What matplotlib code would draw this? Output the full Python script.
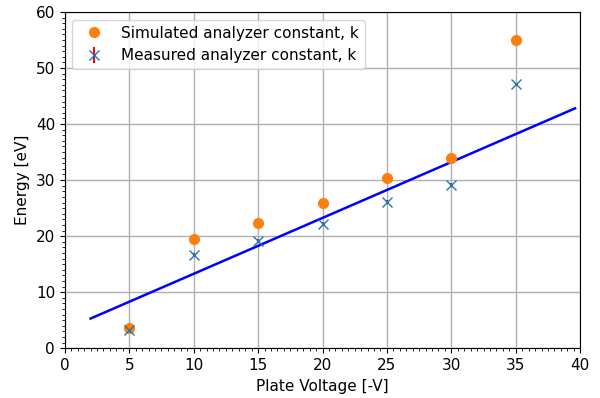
import matplotlib
matplotlib.use("Agg")
import matplotlib.pyplot as plt
from matplotlib.ticker import AutoMinorLocator

plt.rcParams['font.size'] = 11

voltage = [5, 10, 15, 20, 25, 30, 35]
simulated = [3.6, 19.5, 22.4, 25.9, 30.4, 33.9, 55.0]
measured = [3.2, 16.7, 19.2, 22.2, 26.1, 29.2, 47.1]
measured_err = [0.3, 0.3, 0.3, 0.3, 0.3, 0.3, 0.3]
fit_x = [2.0, 39.6]
fit_y = [5.3, 42.8]

fig, ax = plt.subplots(figsize=(6, 3.98), dpi=100)
ax.plot(voltage, simulated, 'o', color='#ff7f0e', markersize=7, label='Simulated analyzer constant, k', zorder=3)
ax.errorbar(voltage, measured, yerr=measured_err, fmt='x', color='#1f77b4', ecolor='red',
            markersize=7, label='Measured analyzer constant, k', zorder=4)
ax.plot(fit_x, fit_y, '-', color='blue', linewidth=1.8, zorder=2)

ax.set_xlim(0, 40)
ax.set_ylim(0, 60)
ax.xaxis.set_minor_locator(AutoMinorLocator(10))
ax.yaxis.set_minor_locator(AutoMinorLocator(10))
ax.grid(True, which='major', color='#b0b0b0', linewidth=1.0)
ax.set_axisbelow(True)
ax.set_xlabel('Plate Voltage [-V]')
ax.set_ylabel('Energy [eV]')
ax.legend(loc='upper left', fontsize=11)
fig.subplots_adjust(left=0.108, right=0.967, top=0.97, bottom=0.125)
fig.savefig('out.png', dpi=100)
